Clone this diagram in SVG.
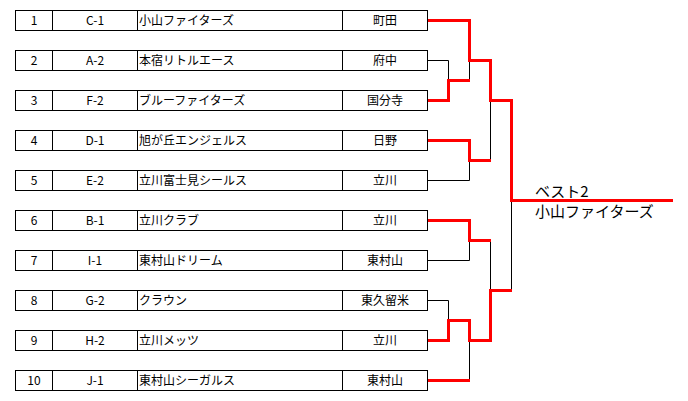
<svg xmlns="http://www.w3.org/2000/svg" width="688" height="401" viewBox="0 0 688 401">
<style>
.box{fill:#fff;stroke:#000;stroke-width:1}
.t{font-family:"Noto Sans CJK JP","DejaVu Sans",sans-serif;font-size:12px;fill:#000}
.c{text-anchor:middle}
.blk{fill:none;stroke:#000;stroke-width:1}
.red{fill:none;stroke:#f00;stroke-width:3;stroke-linejoin:miter;stroke-linecap:butt}
.w{font-family:"Noto Sans CJK JP","DejaVu Sans",sans-serif;font-size:15px;font-weight:400;fill:#000}
</style>
<defs>
<g id="row">
<rect class="box" x="15.5" y="10.5" width="412" height="20"/>
<line class="blk" x1="52.5" y1="10.5" x2="52.5" y2="30.5"/>
<line class="blk" x1="137.5" y1="10.5" x2="137.5" y2="30.5"/>
<line class="blk" x1="342.5" y1="10.5" x2="342.5" y2="30.5"/>
</g>
</defs>
<g id="team1"><use href="#row"/><text class="t c" x="34" y="25">1</text><text class="t c" x="95" y="25">C-1</text><text class="t" x="139" y="25">小山ファイターズ</text><text class="t c" x="385" y="25">町田</text></g>
<g id="team2" transform="translate(0,40)"><use href="#row"/><text class="t c" x="34" y="25">2</text><text class="t c" x="95" y="25">A-2</text><text class="t" x="139" y="25">本宿リトルエース</text><text class="t c" x="385" y="25">府中</text></g>
<g id="team3" transform="translate(0,80)"><use href="#row"/><text class="t c" x="34" y="25">3</text><text class="t c" x="95" y="25">F-2</text><text class="t" x="139" y="25">ブルーファイターズ</text><text class="t c" x="385" y="25">国分寺</text></g>
<g id="team4" transform="translate(0,120)"><use href="#row"/><text class="t c" x="34" y="25">4</text><text class="t c" x="95" y="25">D-1</text><text class="t" x="139" y="25">旭が丘エンジェルス</text><text class="t c" x="385" y="25">日野</text></g>
<g id="team5" transform="translate(0,160)"><use href="#row"/><text class="t c" x="34" y="25">5</text><text class="t c" x="95" y="25">E-2</text><text class="t" x="139" y="25">立川富士見シールス</text><text class="t c" x="385" y="25">立川</text></g>
<g id="team6" transform="translate(0,200)"><use href="#row"/><text class="t c" x="34" y="25">6</text><text class="t c" x="95" y="25">B-1</text><text class="t" x="139" y="25">立川クラブ</text><text class="t c" x="385" y="25">立川</text></g>
<g id="team7" transform="translate(0,240)"><use href="#row"/><text class="t c" x="34" y="25">7</text><text class="t c" x="95" y="25">I-1</text><text class="t" x="139" y="25">東村山ドリーム</text><text class="t c" x="385" y="25">東村山</text></g>
<g id="team8" transform="translate(0,280)"><use href="#row"/><text class="t c" x="34" y="25">8</text><text class="t c" x="95" y="25">G-2</text><text class="t" x="139" y="25">クラウン</text><text class="t c" x="385" y="25">東久留米</text></g>
<g id="team9" transform="translate(0,320)"><use href="#row"/><text class="t c" x="34" y="25">9</text><text class="t c" x="95" y="25">H-2</text><text class="t" x="139" y="25">立川メッツ</text><text class="t c" x="385" y="25">立川</text></g>
<g id="team10" transform="translate(0,360)"><use href="#row"/><text class="t c" x="34" y="25">10</text><text class="t c" x="95" y="25">J-1</text><text class="t" x="139" y="25">東村山シーガルス</text><text class="t c" x="385" y="25">東村山</text></g>
<g id="connectors">
<path class="blk" d="M428,60.5 H448.5 V100.5"/>
<path class="blk" d="M469.5,60 V80.5"/>
<path class="blk" d="M428,180.5 H469.5 V160"/>
<path class="blk" d="M490.5,100 V160.5"/>
<path class="blk" d="M428,260.5 H469.5 V240"/>
<path class="blk" d="M490.5,240 V290.5"/>
<path class="blk" d="M428,300.5 H448.5 V320.5"/>
<path class="blk" d="M469.5,340 V380.5"/>
<path class="blk" d="M511.5,200 V290.5"/>
<path class="red" d="M428,20.5 H469.5 V60.5 H490.5 V100.5 H511.5 V200.5 H673"/>
<path class="red" d="M428,100.5 H448.5 V80.5 H470"/>
<path class="red" d="M428,140.5 H469.5 V160.5 H491"/>
<path class="red" d="M428,220.5 H469.5 V240.5 H491"/>
<path class="red" d="M428,340.5 H448.5 V320.5 H469.5 V340.5 H490.5 V290.5 H512"/>
<path class="red" d="M428,380.5 H470"/>
</g>
<g id="winner">
<text class="w" x="535" y="197">ベスト2</text>
<text class="w" x="535" y="217">小山ファイターズ</text>
</g>
</svg>
